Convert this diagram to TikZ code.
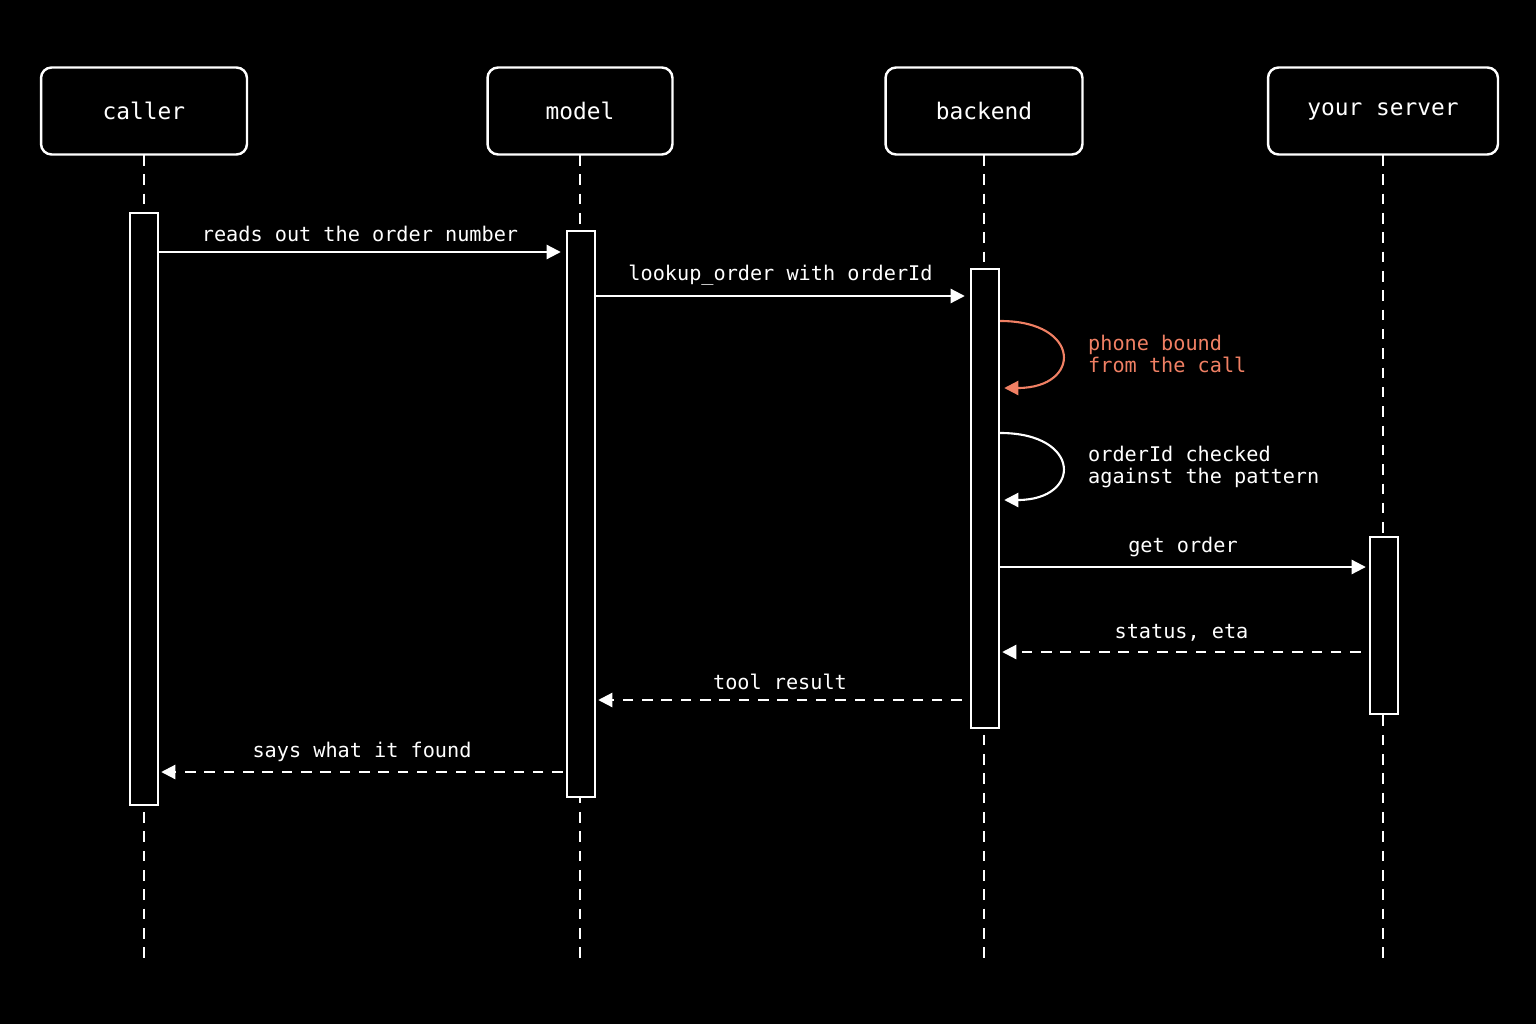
\documentclass[tikz,border=0pt]{standalone}
\usepackage{fontspec}
\setmonofont{DejaVu Sans Mono}
\usetikzlibrary{arrows.meta}
\definecolor{coral}{RGB}{240,128,100}

\tikzset{
		actor/.style={draw=white, line width=1.4pt, rounded corners=6pt, fill=black, text=white, font=\ttfamily\fontsize{13}{15}\selectfont},
		life/.style={white, line width=1.2pt, dash pattern=on 6pt off 5pt},
		act/.style={draw=white, line width=1.4pt, fill=black},
		msg/.style={white, line width=1.2pt, -{Triangle[length=8pt,width=8pt]}},
		reply/.style={msg, dash pattern=on 6pt off 5pt},
		lbl/.style={text=white, font=\ttfamily\fontsize{11.5}{13}\selectfont},
		note/.style={lbl, align=left, anchor=west}
	}

\begin{document}
\begin{tikzpicture}[x=0.02cm, y=-0.02cm]
\useasboundingbox[fill=black] (0,0) rectangle (1536,1024);

% lifelines
\draw [life] (144,155) -- (144,960);
\draw [life] (580,155) -- (580,960);
\draw [life] (984,155) -- (984,960);
\draw [life] (1383,155) -- (1383,960);

\node (caller) at (144,111) [actor, minimum width=4.12cm, minimum height=1.74cm] {caller};
\node (model) at (580,111) [actor, minimum width=3.7cm, minimum height=1.74cm] {model};
\node (backend) at (984,111) [actor, minimum width=3.94cm, minimum height=1.74cm] {backend};
\node (server) at (1383,111) [actor, minimum width=4.6cm, minimum height=1.74cm] {your server};

% activations
\node (cAct) at (144,509) [act, minimum width=0.56cm, minimum height=11.84cm] {};
\node (mAct) at (581,514) [act, minimum width=0.56cm, minimum height=11.32cm] {};
\node (bAct) at (985,498.5) [act, minimum width=0.56cm, minimum height=9.18cm] {};
\node (sAct) at (1384,625.5) [act, minimum width=0.56cm, minimum height=3.54cm] {};

\draw [msg] (cAct.east |- 0,252) -- node[lbl, above=2pt] {reads out the order number} ([xshift=-0.1cm]mAct.west |- 0,252);
\draw [msg] (mAct.east |- 0,296) -- node[lbl, above=2pt] {lookup\_order with orderId} ([xshift=-0.1cm]bAct.west |- 0,296);

\draw [msg, coral] (bAct.east |- 0,321) .. controls (1082,321) and (1082,388) .. ([xshift=0.08cm]bAct.east |- 0,388);
\node (n1) at (1082,354) [note, text=coral] {phone bound\\from the call};
\draw [msg] (bAct.east |- 0,433) .. controls (1082,433) and (1082,500) .. ([xshift=0.08cm]bAct.east |- 0,500);
\node (n2) at (1082,467) [note] {orderId checked\\against the pattern};

\draw [msg] (bAct.east |- 0,567) -- node[lbl, above=2pt] {get order} ([xshift=-0.06cm]sAct.west |- 0,567);
\draw [reply] ([xshift=-0.16cm]sAct.west |- 0,652) -- node[lbl, above=2pt] {status, eta} ([xshift=0.04cm]bAct.east |- 0,652);
\draw [reply] ([xshift=-0.16cm]bAct.west |- 0,700) -- node[lbl, above=2pt] {tool result} ([xshift=0.04cm]mAct.east |- 0,700);
\draw [reply] ([xshift=-0.06cm]mAct.west |- 0,772) -- node[lbl, above=2pt] {says what it found} ([xshift=0.04cm]cAct.east |- 0,772);

\end{tikzpicture}
\end{document}
